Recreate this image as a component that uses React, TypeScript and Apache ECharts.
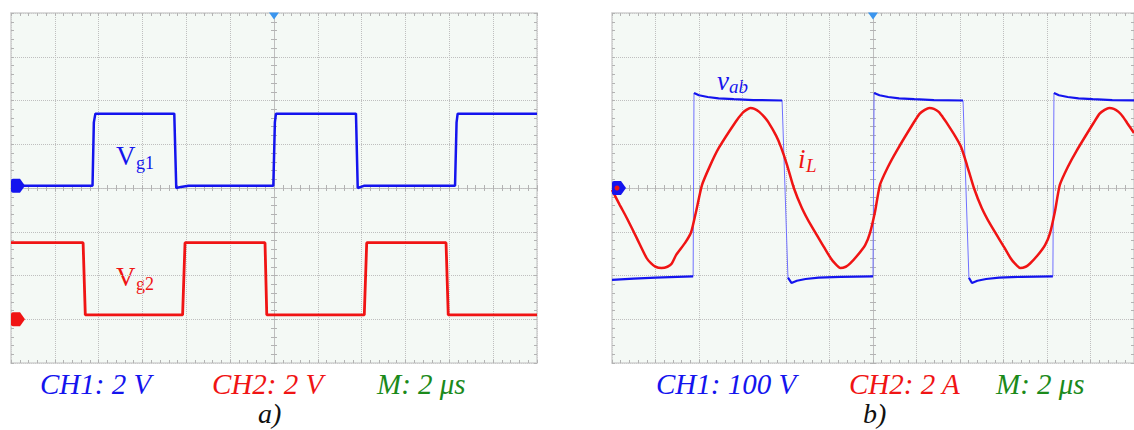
import React, { useEffect, useRef } from "react";
import * as echarts from "echarts";

// ---------- time axis (µs, relative to trigger at screen centre), 2 µs/div ----------
const TIME_MIN = -12;
const TIME_MAX = 12;
const TIME_DIV = 2;

// ---------- panel a) gate signals (V) ----------
// CH1 2 V/div, ground at centre; CH2 2 V/div, ground 3 div below centre
const vg1: [number, number][] = [
  [-12, 0.1], [-8.28, 0.1], [-8.22, 3.0], [-8.15, 3.4], [-4.55, 3.4], [-4.46, 0.0],
  [-4.25, 0.05], [-3.9, 0.1], [-0.03, 0.1], [0.04, 3.0], [0.09, 3.4], [3.74, 3.4],
  [3.82, 0.0], [4.1, 0.1], [8.26, 0.1], [8.33, 3.0], [8.38, 3.4], [12, 3.4],
];
const vg2: [number, number][] = [
  [-12, 3.5], [-8.71, 3.5], [-8.61, 0.2], [-4.17, 0.2], [-4.06, 3.5], [-0.41, 3.5],
  [-0.33, 0.2], [4.12, 0.2], [4.23, 3.5], [7.85, 3.5], [7.95, 0.2], [12, 0.2],
];

// ---------- panel b) bridge voltage (V) and inductor current (A) ----------
// CH1 100 V/div, CH2 2 A/div, both grounds at centre
const G = "-";
const vabLevels: any[] = [
  [-12, -210], [-11, -207], [-10, -205], [-9, -203], [-8.27, -202], [G, G],
  [-8.23, 217], [-8.0, 212], [-7.6, 208], [-7.1, 205], [-6.4, 203], [-5.5, 201], [-4.18, 200], [G, G],
  [-3.91, -205], [-3.75, -217], [-3.5, -212], [-3.1, -208], [-2.5, -205], [-1.5, -203], [0, -202], [G, G],
  [0.05, 217], [0.3, 212], [0.7, 208], [1.2, 205], [1.9, 203], [2.8, 201], [4.14, 200], [G, G],
  [4.41, -205], [4.55, -217], [4.8, -212], [5.2, -208], [5.8, -205], [6.8, -203], [8.27, -202], [G, G],
  [8.32, 217], [8.55, 212], [8.95, 208], [9.45, 205], [10.1, 203], [11, 201], [12.3, 200],
];
const vabEdges: any[] = [
  [-8.27, -202], [-8.23, 217], [G, G],
  [-4.18, 200], [-3.91, -205], [G, G],
  [0, -202], [0.05, 217], [G, G],
  [4.14, 200], [4.41, -205], [G, G],
  [8.27, -202], [8.32, 217],
];
const iL: [number, number][] = [
  [-12, -0.09], [-11.64, -0.78], [-11.32, -1.37], [-10.86, -2.29], [-10.41, -3.2], [-10.2, -3.45],
  [-10.0, -3.6], [-9.73, -3.66], [-9.45, -3.6], [-9.25, -3.45], [-9.05, -3.06], [-8.64, -2.51],
  [-8.36, -2.01], [-8.14, -1.1], [-7.86, 0.14], [-7.5, 1.0], [-7.09, 1.83], [-6.32, 3.02],
  [-6.0, 3.43], [-5.82, 3.57], [-5.64, 3.66], [-5.45, 3.62], [-5.23, 3.48], [-5.0, 3.25],
  [-4.82, 3.02], [-4.45, 2.38], [-4.23, 1.87], [-3.95, 1.05], [-3.64, 0], [-3.27, -0.91],
  [-2.86, -1.69], [-2.23, -2.74], [-1.95, -3.2], [-1.75, -3.45], [-1.5, -3.66], [-1.25, -3.6],
  [-1.05, -3.45], [-0.73, -3.1], [-0.36, -2.61], [-0.14, -2.06], [0.09, -1.1], [0.32, 0.14],
  [0.68, 0.95], [1.09, 1.7], [1.86, 2.97], [2.15, 3.4], [2.38, 3.57], [2.59, 3.66],
  [2.8, 3.62], [3.02, 3.48], [3.2, 3.25], [3.36, 3.02], [3.77, 2.38], [4.05, 1.87],
  [4.32, 1.05], [4.64, 0], [5.0, -0.91], [5.41, -1.69], [6.05, -2.74], [6.32, -3.2],
  [6.52, -3.45], [6.77, -3.66], [7.02, -3.6], [7.22, -3.45], [7.55, -3.1], [7.91, -2.61],
  [8.14, -2.06], [8.36, -1.1], [8.59, 0.14], [8.95, 0.95], [9.36, 1.7], [10.14, 2.97],
  [10.42, 3.4], [10.65, 3.57], [10.86, 3.66], [11.07, 3.62], [11.29, 3.48], [11.5, 3.25],
  [11.7, 2.95], [12, 2.51],
];

// channel ground markers and trigger position
const ch1GroundA: [number, number][] = [[-12, 0.1]];
const ch2GroundA: [number, number][] = [[-12, 0]];
const ch1GroundB: [number, number][] = [[-12, 0]];
const triggerA: [number, number][] = [[0, 8]];
const triggerB: [number, number][] = [[0, 400]];

const captionsA = ["CH1: 2 V", "CH2: 2 V", "M: 2 μs"];
const captionsB = ["CH1: 100 V", "CH2: 2 A", "M: 2 μs"];

const BLUE = "#1414ee";
const RED = "#f01414";
const GREEN = "#1b8a1b";
const GRID_C = "#bfbfbf";
const BORDER_C = "#d0d0d0";
const TICK_C = "#b3b3b3";
const SERIF = "Liberation Serif";
const MARKER = "path://M2,0 L9,0 L14,7 L9,14 L2,14 Q0,14 0,12 L0,2 Q0,0 2,0 Z";

function edgeAxis(gridIndex: number, min: number, max: number, interval: number, position: string, split: boolean) {
  return {
    type: "value", gridIndex, min, max, interval, position,
    axisLabel: { show: false },
    axisLine: { show: true, onZero: false, lineStyle: { color: BORDER_C, width: 1.5 } },
    axisTick: { show: true, inside: true, length: 3, lineStyle: { color: TICK_C } },
    minorTick: { show: true, splitNumber: 5, length: 3, lineStyle: { color: TICK_C } },
    splitLine: { show: split, lineStyle: { color: GRID_C, type: "dotted", width: 1 } },
  };
}
function centreAxis(gridIndex: number, min: number, max: number, interval: number, position: string, onZeroIdx: number, inside: boolean) {
  return {
    type: "value", gridIndex, min, max, interval, position,
    axisLabel: { show: false },
    axisLine: { show: true, onZero: true, onZeroAxisIndex: onZeroIdx, lineStyle: { color: GRID_C, type: "dotted", width: 1 } },
    axisTick: { show: true, inside, length: 3, lineStyle: { color: TICK_C } },
    minorTick: { show: true, splitNumber: 5, length: 3, lineStyle: { color: TICK_C } },
    splitLine: { show: false },
  };
}
function hiddenAxis(gridIndex: number, min: number, max: number) {
  return { type: "value", gridIndex, min, max, show: false, axisLine: { onZero: false }, splitLine: { show: false } };
}

function txt(text: string, x: number, baseline: number, size: number, fill: string, italic: boolean) {
  return {
    type: "text", x, y: baseline - size * 0.35, silent: true,
    style: {
      text, fill, fontFamily: SERIF, fontSize: size, fontStyle: italic ? "italic" : "normal",
      align: "left", verticalAlign: "middle",
    },
  };
}

function markerSeries(x: number, y: number, data: any, color: string, symbol: string, size: any, offset: any, rotate = 0) {
  return {
    type: "scatter", xAxisIndex: x, yAxisIndex: y, data, symbol, symbolSize: size, symbolOffset: offset,
    symbolRotate: rotate, itemStyle: { color, opacity: 1 }, clip: false, silent: true, z: 6,
  };
}

const option: any = {
  animation: false,
  backgroundColor: "#ffffff",
  grid: [
    { left: 11, top: 13, width: 526, height: 350, show: true, backgroundColor: "#f4f9f5", borderWidth: 0 },
    { left: 612, top: 13, width: 528, height: 350, show: true, backgroundColor: "#f4f9f5", borderWidth: 0 },
  ],
  xAxis: [
    edgeAxis(0, TIME_MIN, TIME_MAX, TIME_DIV, "bottom", true),
    edgeAxis(0, TIME_MIN, TIME_MAX, TIME_DIV, "top", false),
    centreAxis(0, TIME_MIN, TIME_MAX, TIME_DIV, "bottom", 0, true),
    centreAxis(0, TIME_MIN, TIME_MAX, TIME_DIV, "bottom", 0, false),
    edgeAxis(1, TIME_MIN, TIME_MAX, TIME_DIV, "bottom", true),
    edgeAxis(1, TIME_MIN, TIME_MAX, TIME_DIV, "top", false),
    centreAxis(1, TIME_MIN, TIME_MAX, TIME_DIV, "bottom", 5, true),
    centreAxis(1, TIME_MIN, TIME_MAX, TIME_DIV, "bottom", 5, false),
  ],
  yAxis: [
    edgeAxis(0, -8, 8, 2, "left", true),
    edgeAxis(0, -8, 8, 2, "right", false),
    centreAxis(0, -8, 8, 2, "left", 0, true),
    centreAxis(0, -8, 8, 2, "left", 0, false),
    hiddenAxis(0, -2, 14),
    edgeAxis(1, -400, 400, 100, "left", true),
    edgeAxis(1, -400, 400, 100, "right", false),
    centreAxis(1, -400, 400, 100, "left", 4, true),
    centreAxis(1, -400, 400, 100, "left", 4, false),
    hiddenAxis(1, -8, 8),
  ],
  series: [
    { type: "line", name: "Vg1", xAxisIndex: 0, yAxisIndex: 0, data: vg1, symbol: "none", lineStyle: { color: BLUE, width: 2.5 }, z: 3 },
    { type: "line", name: "Vg2", xAxisIndex: 0, yAxisIndex: 4, data: vg2, symbol: "none", lineStyle: { color: RED, width: 2.8 }, z: 3 },
    { type: "line", name: "vab edges", xAxisIndex: 4, yAxisIndex: 5, data: vabEdges, symbol: "none", connectNulls: false, lineStyle: { color: "#7070ff", width: 1 }, z: 2 },
    { type: "line", name: "vab", xAxisIndex: 4, yAxisIndex: 5, data: vabLevels, symbol: "none", connectNulls: false, lineStyle: { color: BLUE, width: 2.2 }, z: 3 },
    { type: "line", name: "iL", xAxisIndex: 4, yAxisIndex: 9, data: iL, symbol: "none", smooth: 0.2, lineStyle: { color: RED, width: 2.5 }, z: 4 },
    markerSeries(0, 0, ch1GroundA, BLUE, MARKER, [14, 14], [7, 0]),
    markerSeries(0, 4, ch2GroundA, RED, MARKER, [14, 14], [7, 0]),
    markerSeries(4, 5, ch1GroundB, BLUE, MARKER, [14, 14], [7, 0]),
    markerSeries(4, 5, ch1GroundB, RED, "circle", 5, [5, 0]),
    markerSeries(0, 0, triggerA, "#3a95ee", "triangle", [10, 7], [0, 3], 180),
    markerSeries(4, 5, triggerB, "#3a95ee", "triangle", [10, 7], [0, 3], 180),
  ],
  graphic: [
    txt("V", 116, 165, 27, BLUE, false),
    txt("g1", 136, 169, 18, BLUE, false),
    txt("V", 116, 286, 27, RED, false),
    txt("g2", 136, 290, 18, RED, false),
    txt("v", 717, 90, 27, BLUE, true),
    txt("ab", 729, 93, 19, BLUE, true),
    txt("i", 798, 168, 27, RED, true),
    txt("L", 806, 172, 19, RED, true),
    txt(captionsA[0], 40, 394, 29, BLUE, true),
    txt(captionsA[1], 212, 394, 29, RED, true),
    txt(captionsA[2], 377, 394, 29, GREEN, true),
    txt("a)", 258, 423, 28, "#111111", true),
    txt(captionsB[0], 656, 394, 29, BLUE, true),
    txt(captionsB[1], 849, 394, 29, RED, true),
    txt(captionsB[2], 996, 394, 29, GREEN, true),
    txt("b)", 863, 423, 28, "#111111", true),
  ],
};

export default function App() {
  const ref = useRef<HTMLDivElement>(null);
  useEffect(() => {
    document.body.style.margin = "0";
    const chart = echarts.init(ref.current!, null, { renderer: "svg" });
    chart.setOption(option);
    return () => chart.dispose();
  }, []);
  return <div ref={ref} style={{ width: 1134, height: 430 }} />;
}
